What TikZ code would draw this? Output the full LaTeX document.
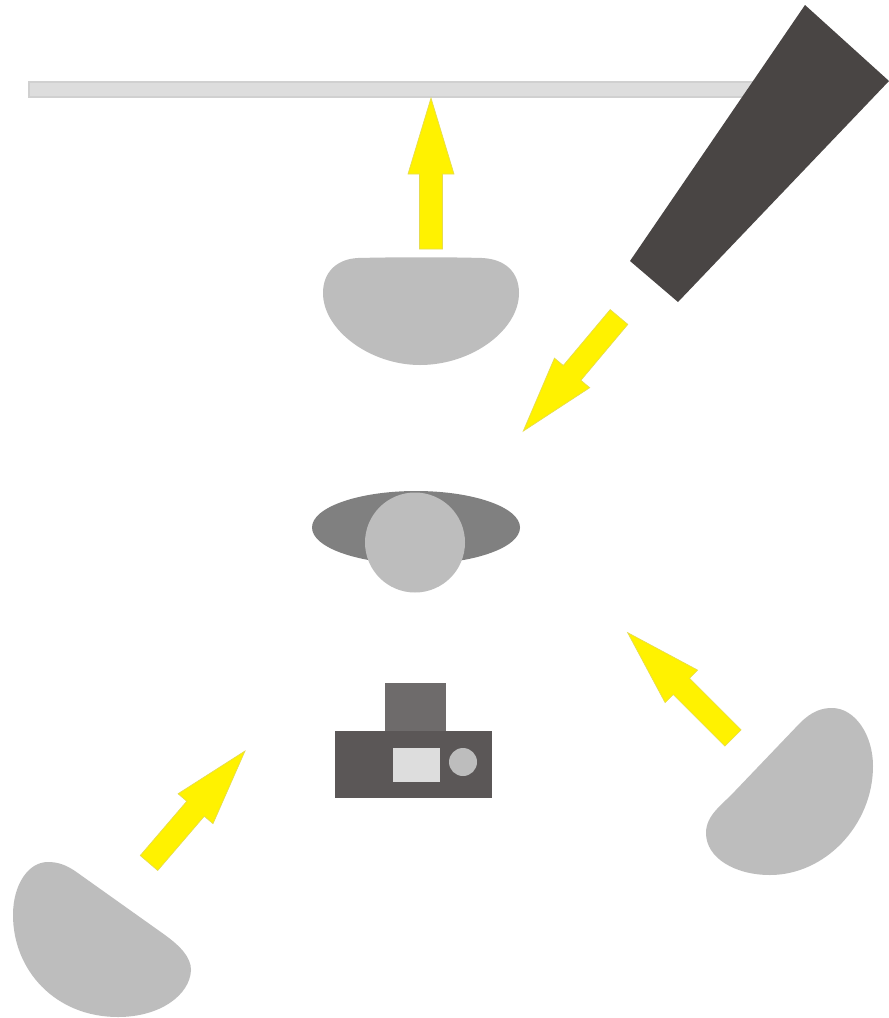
\documentclass[tikz,border=0pt]{standalone}
\definecolor{softgray}{HTML}{BDBDBD}
\definecolor{standdark}{HTML}{494544}
\definecolor{camdark}{HTML}{5B5757}
\definecolor{camtop}{HTML}{6E6B6B}
\definecolor{shoulder}{HTML}{808080}
\definecolor{barfill}{HTML}{DDDDDD}
\definecolor{baredge}{HTML}{D0D0D0}
\definecolor{arrowyellow}{HTML}{FFF200}
\definecolor{arrowedge}{HTML}{E6DC50}
\tikzset{softbox/.style={fill=softgray,draw=none},
 lightarrow/.style={fill=arrowyellow,draw=arrowedge,line width=0.5pt,line join=miter}}
\newcommand{\lightarrowshape}[4]{%
 \begin{scope}[shift={(#1,#2)},rotate=#3]
 \path[lightarrow] (0,-11.5) -- (#4-76,-11.5) -- (#4-76,-23) -- (#4,0) -- (#4-76,23) -- (#4-76,11.5) -- (0,11.5) -- cycle;
 \end{scope}}
\begin{document}
\begin{tikzpicture}[x=0.75pt,y=-0.75pt]
\useasboundingbox (0,0) rectangle (889,1018);
\fill[white] (0,0) rectangle (889,1018);
% backdrop bar
\path[fill=barfill,draw=baredge,line width=1.5pt] (29,82) rectangle (760,97);
% light stand
\fill[standdark] (805,5) -- (889,81) -- (678,302) -- (630,261) -- cycle;
% softboxes
\path[softbox] (358,258) .. controls (400,257) and (445,257) .. (482,258)
 .. controls (505,259) and (519,272) .. (519,293)
 .. controls (519,330) and (472,365) .. (420,365)
 .. controls (370,365) and (323,330) .. (323,293)
 .. controls (323,272) and (337,259) .. (358,258) -- cycle;
\path[softbox] (48,862) .. controls (58,862) and (66,865) .. (75,871)
 -- (165,935) .. controls (180,946) and (191,957) .. (191,970)
 .. controls (190,995) and (160,1017) .. (118,1017)
 .. controls (55,1017) and (13,970) .. (13,915)
 .. controls (13,885) and (28,862) .. (48,862) -- cycle;
\path[softbox] (832,708) .. controls (855,708) and (873,735) .. (873,766)
 .. controls (873,825) and (825,875) .. (770,875)
 .. controls (735,875) and (706,858) .. (706,833)
 .. controls (706,815) and (722,805) .. (735,791)
 -- (800,723) .. controls (812,711) and (822,708) .. (832,708) -- cycle;
% arrows
\lightarrowshape{431}{249}{90}{151}
\lightarrowshape{619}{317}{-130}{149}
\lightarrowshape{733}{738}{135}{149}
\lightarrowshape{149}{863}{49.4}{147.5}
% subject
\fill[shoulder] (416,527.5) ellipse [x radius=104,y radius=36.5];
\fill[softgray] (415,542.5) circle [radius=50];
% camera
\fill[camtop] (385,683) rectangle (446,731);
\fill[camdark] (335,731) rectangle (492,798);
\fill[barfill] (393,748) rectangle (440,782);
\fill[softgray] (463,762) circle [radius=14];
\end{tikzpicture}
\end{document}
